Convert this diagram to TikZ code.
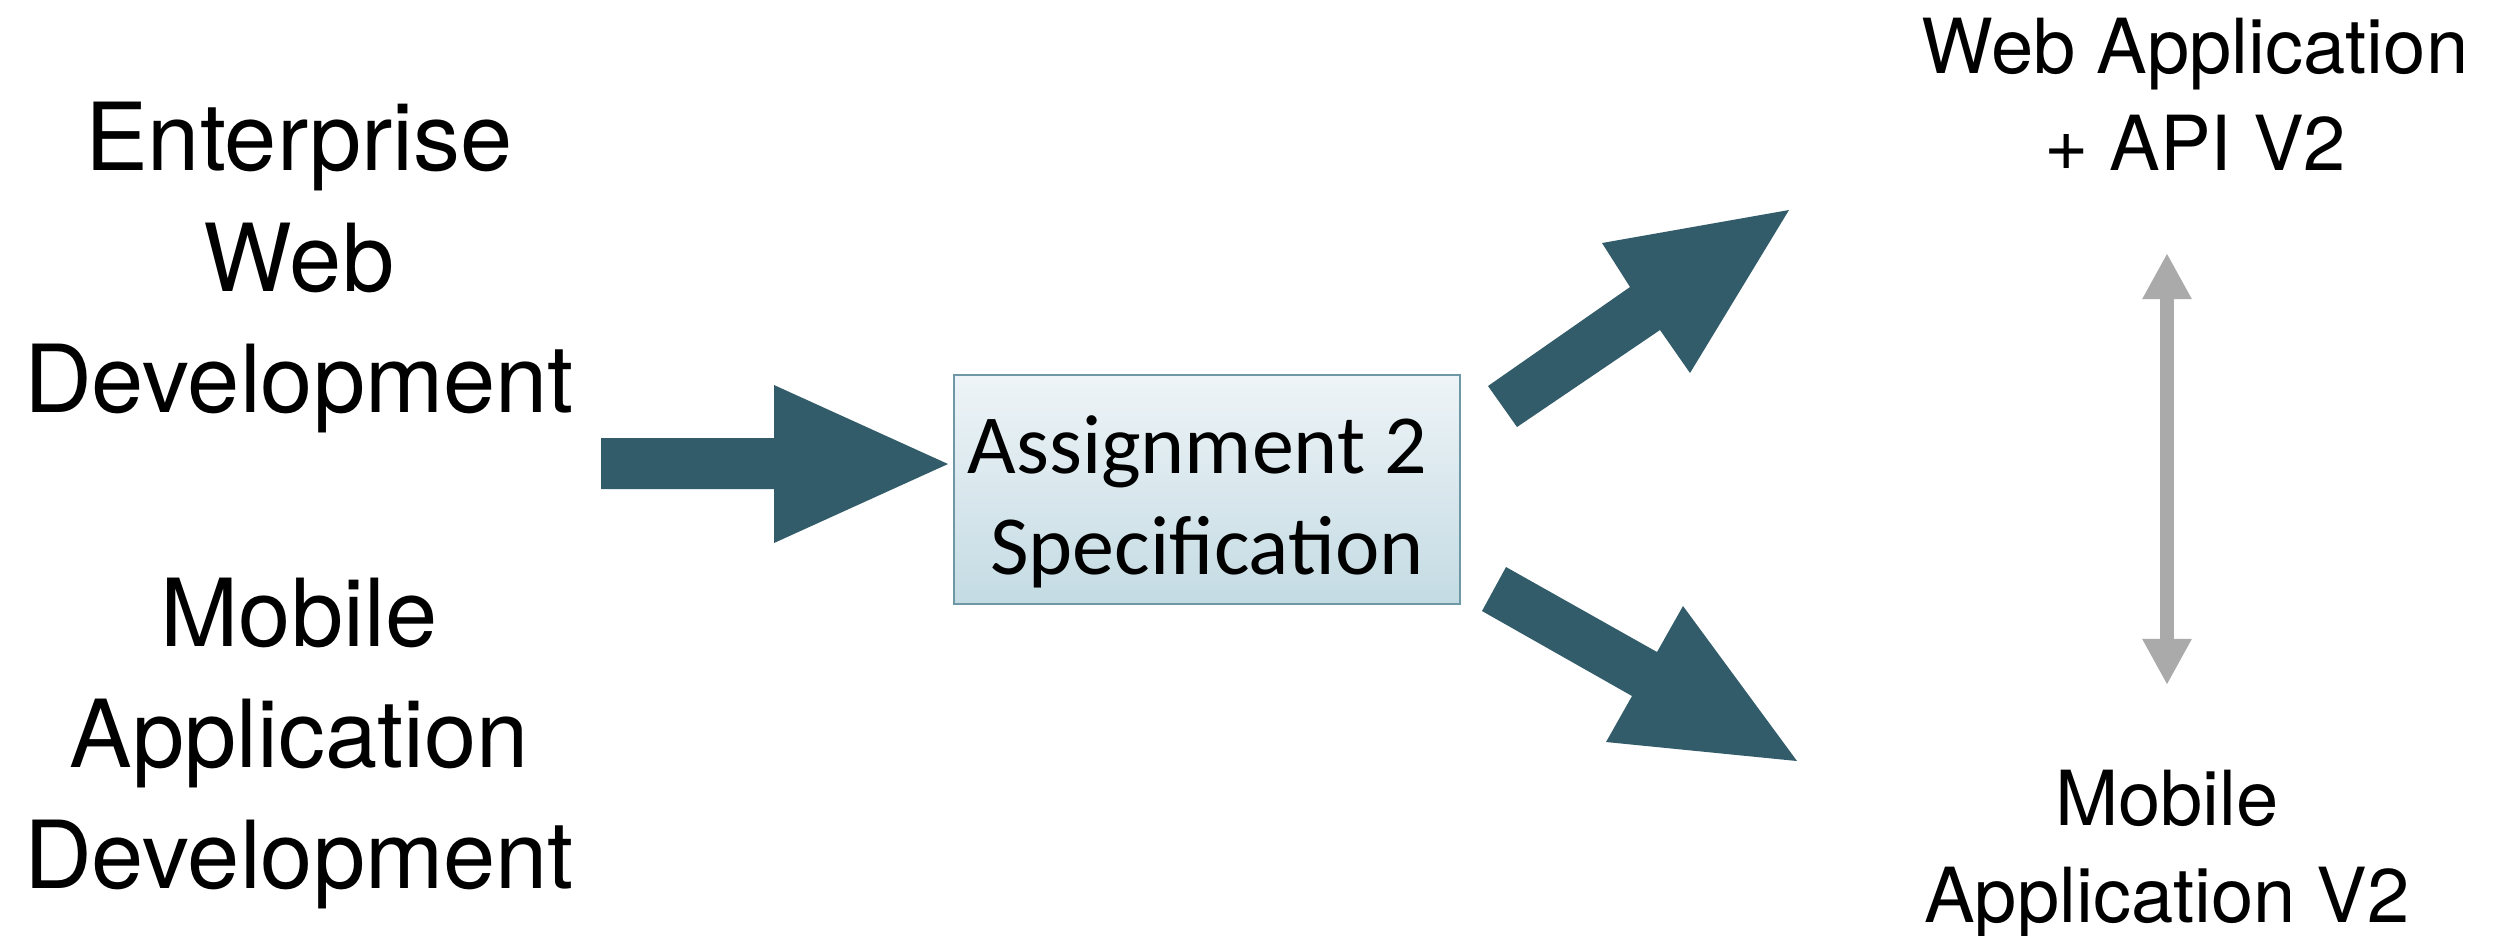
\documentclass[tikz,border=0pt]{standalone}
\usepackage{fontspec}
\setmainfont{TeX Gyre Heros}
\newfontfamily\boxfont{Carlito}
\usetikzlibrary{arrows.meta}

\definecolor{arrowteal}{HTML}{325C69}
\definecolor{boxtop}{HTML}{EEF4F7}
\definecolor{boxbottom}{HTML}{C4DBE3}
\definecolor{boxedge}{HTML}{6F98A7}
\definecolor{linkgray}{HTML}{AAAAAA}

\tikzset{
  topic/.style={align=center, inner sep=0pt, anchor=base,
    font=\fontsize{26.7pt}{34.4pt}\selectfont},
  outcome/.style={align=center, inner sep=0pt, anchor=base,
    font=\fontsize{21.6pt}{27.4pt}\selectfont},
  specbox/.style={draw=boxedge, line width=0.6pt, top color=boxtop,
    bottom color=boxbottom, minimum width=5.06cm, minimum height=2.29cm,
    align=center, inner sep=0pt,
    font=\boxfont\fontsize{23.9pt}{28.7pt}\selectfont},
  blockarrow/.style={fill=arrowteal},
  twoway/.style={draw=linkgray, line width=0.14cm,
    {Triangle[width=0.46cm,length=0.46cm]}-{Triangle[width=0.46cm,length=0.46cm]}}
}

\begin{document}
\begin{tikzpicture}[x=0.01cm, y=-0.01cm]
  \useasboundingbox (0,0) rectangle (2503,935);

  % course topics on the left (placed by the baseline of their last line)
  \node[topic] (ewd) at (299,412) {Enterprise\\Web\\Development};
  \node[topic] (mad) at (299,888) {Mobile\\Application\\Development};

  % central specification box
  \node[specbox] (spec) at (1207,489.5)
    {\rule{0pt}{0.98em}Assignment 2\hspace*{0.23em}\\Specification};

  % deliverables on the right
  \node[outcome] (web) at (2195,170) {Web Application\\+ API V2};
  \node[outcome] (mob) at (2167,922) {Mobile\\Application V2};

  % broad arrows
  \fill[blockarrow] (601,438) -- (774,438) -- (774,385) -- (948,464)
    -- (774,543) -- (774,489) -- (601,489) -- cycle;
  \fill[blockarrow] (1488,386) -- (1630,287) -- (1602,243) -- (1789,210)
    -- (1690,373) -- (1660,330) -- (1517,427) -- cycle;
  \fill[blockarrow] (1506,567) -- (1657,652) -- (1683,606) -- (1797,761)
    -- (1606,742) -- (1632,696) -- (1482,611) -- cycle;

  % link between the two applications
  \coordinate (webend) at (2167,253);
  \coordinate (mobend) at (2167,685);
  \draw[twoway] (webend) -- (mobend);
\end{tikzpicture}
\end{document}
